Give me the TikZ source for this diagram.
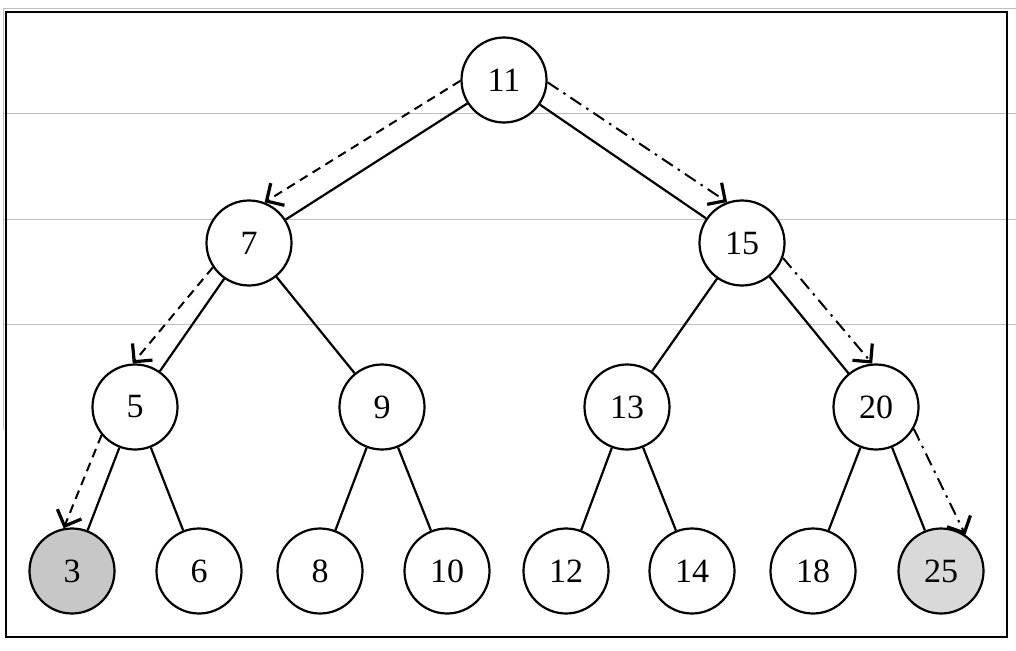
\documentclass[tikz,border=0pt]{standalone}
\usepackage{fontspec}
\setmainfont{Liberation Serif}
\usetikzlibrary{arrows.meta}
\begin{document}
\begin{tikzpicture}[x=1pt,y=-1pt,
  tnode/.style={circle,draw,line width=2.2pt,minimum size=85pt,inner sep=0pt,font=\fontsize{34}{40}\selectfont,fill=white},
  edge/.style={line width=2.2pt},
  tip/.style={-{Straight Barb[length=13pt,width=26pt,line width=3.2pt]}},
  dashpath/.style={tip,line width=2pt,dash pattern=on 9pt off 6pt},
  dotpath/.style={tip,line width=2pt,dash pattern=on 13pt off 6pt on 2.5pt off 6pt},
  scanline/.style={line width=1pt,color=black!25}]
\useasboundingbox (0,0) rectangle (1016,650);
\fill[white] (0,0) rectangle (1016,650);
% faint scan lines
\draw[scanline] (3,9) -- (1016,9);
\draw[scanline] (3,9) -- (3,430);
\draw[scanline] (3,114) -- (1016,114);
\draw[scanline] (3,219) -- (1016,219);
\draw[scanline] (3,324) -- (1016,324);
% frame
\draw[line width=2.8pt] (6,12) rectangle (1007,637);
% nodes
\node[tnode] (n11) at (504,80) {11};
\node[tnode] (n7) at (249,243) {7};
\node[tnode] (n15) at (742,243) {15};
\node[tnode] (n5) at (135,407) {5};
\node[tnode] (n9) at (382,407) {9};
\node[tnode] (n13) at (627,407) {13};
\node[tnode] (n20) at (876,407) {20};
\node[tnode,fill=black!22] (n3) at (72,571) {3};
\node[tnode] (n6) at (199,571) {6};
\node[tnode] (n8) at (320,571) {8};
\node[tnode] (n10) at (447,571) {10};
\node[tnode] (n12) at (566,571) {12};
\node[tnode] (n14) at (692,571) {14};
\node[tnode] (n18) at (813,571) {18};
\node[tnode,fill=black!15] (n25) at (941,571) {25};
% edges
\foreach \a/\b in {n11/n7,n11/n15,n7/n5,n7/n9,n15/n13,n15/n20,n5/n3,n5/n6,n9/n8,n9/n10,n13/n12,n13/n14,n20/n18,n20/n25}
  \draw[edge] (\a) -- (\b);
% search paths
\draw[dashpath] (n11.181) -- (n7.69);
\draw[dashpath] (n7.214) -- (n5.93);
\draw[dashpath] (n5.220) -- (n3.101);
\draw[dotpath] (n11.357) -- (n15.110);
\draw[dotpath] (n15.340) -- (n20.95);
\draw[dotpath] (n20.330) -- (n25.56);
\end{tikzpicture}
\end{document}
